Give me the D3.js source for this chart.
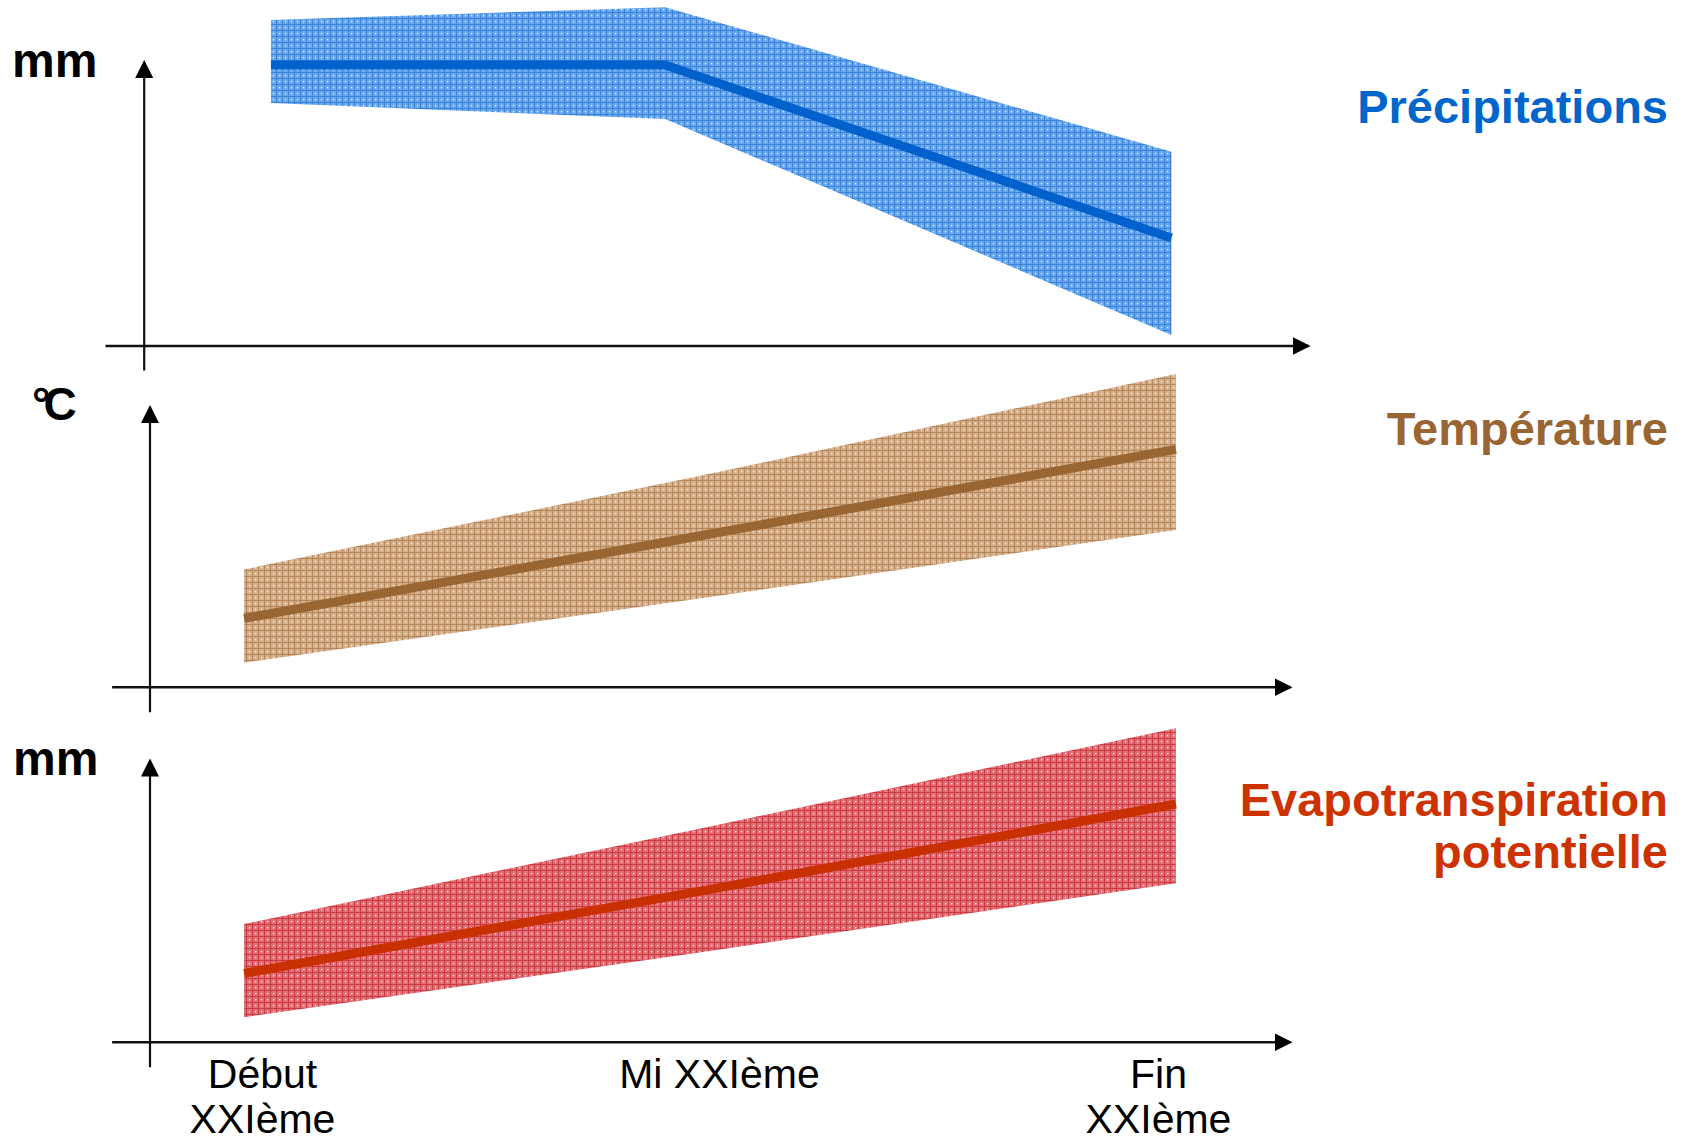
<!DOCTYPE html>
<html>
<head>
<meta charset="utf-8">
<script src="https://cdn.jsdelivr.net/npm/d3@7"></script>
<style>
  html, body { margin: 0; padding: 0; background: #fff; }
  svg { display: block; font-family: "Liberation Sans", Arial, sans-serif; }
</style>
</head>
<body>
<div id="chart"></div>
<script>
// x categories (time periods) and where their labels sit on the time scale
const categories = ['Début XXIème', 'Mi XXIème', 'Fin XXIème']
const tickLines = [['Début', 'XXIème'], ['Mi XXIème'], ['Fin', 'XXIème']]
const tickYears = [2000, 2051, 2100]

// values are relative units (0 = x axis, 100 = top of panel)
const precipYears = [2001, 2045, 2101.5]
const precipMid = [82.5, 82.5, 31.6]
const precipLow = [71.3, 66.6, 3.1]
const precipHigh = [95.7, 99.5, 57]

const tempYears = [1998, 2050, 2102]
const tempMid = [20.1, 44.9, 69.8]
const tempLow = [7.1, 26.4, 46.1]
const tempHigh = [34.5, 62.6, 92]

const etpYears = [1998, 2050, 2102]
const etpMid = [20.1, 44.8, 69.9]
const etpLow = [7.2, 26.7, 46.6]
const etpHigh = [34.6, 63.3, 92.2]

const W = 1692
const H = 1141

const panels = [
  { id: 'p', title: ['Précipitations'], unit: 'mm', line: '#0060cc', text: '#0066cc',
    base: '#6aa8ea', grid: '#2a76d6',
    years: precipYears, mid: precipMid, low: precipLow, high: precipHigh,
    axisY: 345.5, yAxisX: 143.7, yTop: 61.5, yBottom: 370, xLeft: 105, xRight: 1308,
    unitX: 12, unitY: 77, titleY: [122.7] },
  { id: 't', title: ['Température'], unit: '°C', line: '#996633', text: '#996633',
    base: '#d4b08d', grid: '#a8784a',
    years: tempYears, mid: tempMid, low: tempLow, high: tempHigh,
    axisY: 686.7, yAxisX: 149.5, yTop: 406.5, yBottom: 711.7, xLeft: 111.6, xRight: 1290,
    unitX: 32, unitY: 420, titleY: [444.6] },
  { id: 'e', title: ['Evapotranspiration', 'potentielle'], unit: 'mm', line: '#c83000', text: '#cc3300',
    base: '#de7077', grid: '#c8262e',
    years: etpYears, mid: etpMid, low: etpLow, high: etpHigh,
    axisY: 1041.7, yAxisX: 149.5, yTop: 760, yBottom: 1066.7, xLeft: 111.6, xRight: 1290,
    unitX: 13, unitY: 775, titleY: [816, 868] }
]

const x = d3.scaleLinear().domain([2000, 2100]).range([262, 1158])

const svg = d3.select('#chart')
  .append('svg')
  .attr('width', W)
  .attr('height', H)

const defs = svg.append('defs')

defs.append('marker')
  .attr('id', 'arrow')
  .attr('markerUnits', 'userSpaceOnUse')
  .attr('viewBox', '0 -9 18 18')
  .attr('refX', 16)
  .attr('refY', 0)
  .attr('markerWidth', 18)
  .attr('markerHeight', 18)
  .attr('orient', 'auto')
  .append('path')
  .attr('d', 'M0,-9L18,0L0,9Z')
  .attr('fill', '#000')

// dotted grid texture for the uncertainty bands
panels.forEach(p => {
  const pat = defs.append('pattern')
    .attr('id', 'hatch-' + p.id)
    .attr('patternUnits', 'userSpaceOnUse')
    .attr('width', 6)
    .attr('height', 6)
  pat.append('rect').attr('width', 6).attr('height', 6).attr('fill', p.base)
  pat.append('rect').attr('width', 6).attr('height', 1).attr('fill', p.grid).attr('opacity', 0.7)
  pat.append('rect').attr('width', 1).attr('height', 6).attr('fill', p.grid).attr('opacity', 0.7)
  pat.append('rect').attr('x', 3).attr('y', 3).attr('width', 1.2).attr('height', 1.2).attr('fill', '#fff').attr('opacity', 0.85)
})

panels.forEach((p, i) => {
  const y = d3.scaleLinear().domain([0, 100]).range([p.axisY, p.axisY - 340])
  const rows = p.years.map((yr, k) => ({ yr: yr, mid: p.mid[k], low: p.low[k], high: p.high[k] }))

  const g = svg.append('g').attr('class', 'panel')

  // band
  const area = d3.area()
    .x(d => x(d.yr))
    .y0(d => y(d.low))
    .y1(d => y(d.high))
  g.append('path')
    .datum(rows)
    .attr('d', area)
    .attr('fill', 'url(#hatch-' + p.id + ')')

  // central line
  const line = d3.line()
    .x(d => x(d.yr))
    .y(d => y(d.mid))
  g.append('path')
    .datum(rows)
    .attr('d', line)
    .attr('fill', 'none')
    .attr('stroke', p.line)
    .attr('stroke-width', 9)

  // axes, drawn with arrow heads
  const xAxisScale = d3.scaleLinear().domain([x.invert(p.xLeft), x.invert(p.xRight)]).range([p.xLeft, p.xRight])
  const xAxis = g.append('g')
    .attr('transform', 'translate(0,' + p.axisY + ')')
    .call(d3.axisBottom(xAxisScale).tickValues([]).tickSizeOuter(0))
  xAxis.select('.domain')
    .attr('stroke', '#111')
    .attr('stroke-width', 2.5)
    .attr('marker-end', 'url(#arrow)')

  const yAxisScale = d3.scaleLinear().domain([y.invert(p.yBottom), y.invert(p.yTop)]).range([p.yBottom, p.yTop])
  const yAxis = g.append('g')
    .attr('transform', 'translate(' + p.yAxisX + ',0)')
    .call(d3.axisLeft(yAxisScale).tickValues([]).tickSizeOuter(0))
  yAxis.select('.domain')
    .attr('stroke', '#111')
    .attr('stroke-width', 2.2)
    .attr('marker-end', 'url(#arrow)')

  // unit label
  g.append('text')
    .attr('x', p.unitX)
    .attr('y', p.unitY)
    .attr('font-size', p.unit === 'mm' ? 48 : 46)
    .attr('font-weight', 'bold')
    .attr('letter-spacing', p.unit === 'mm' ? 0 : -7)
    .attr('fill', '#000')
    .text(p.unit)

  // series title on the right
  const t = g.append('text')
    .attr('text-anchor', 'end')
    .attr('font-size', 47)
    .attr('font-weight', 'bold')
    .attr('fill', p.text)
  p.title.forEach((s, k) => {
    t.append('tspan').attr('x', 1668).attr('y', p.titleY[k]).text(s)
  })

  // category labels under the last panel
  if (i === panels.length - 1) {
    const ax = g.append('g')
      .attr('transform', 'translate(0,' + p.axisY + ')')
      .call(d3.axisBottom(x).tickValues(tickYears).tickSize(0).tickFormat((d, k) => categories[k]))
    ax.select('.domain').remove()
    ax.selectAll('.tick text')
      .attr('font-size', 41)
      .attr('font-family', '"Liberation Sans", Arial, sans-serif')
      .attr('fill', '#000')
      .attr('y', 0)
      .attr('dy', null)
      .text(null)
      .each(function (d, k) {
        const el = d3.select(this)
        tickLines[k].forEach((s, j) => {
          el.append('tspan').attr('x', 0).attr('y', 46.6 + j * 45).text(s)
        })
      })
  }
})
</script>
</body>
</html>
